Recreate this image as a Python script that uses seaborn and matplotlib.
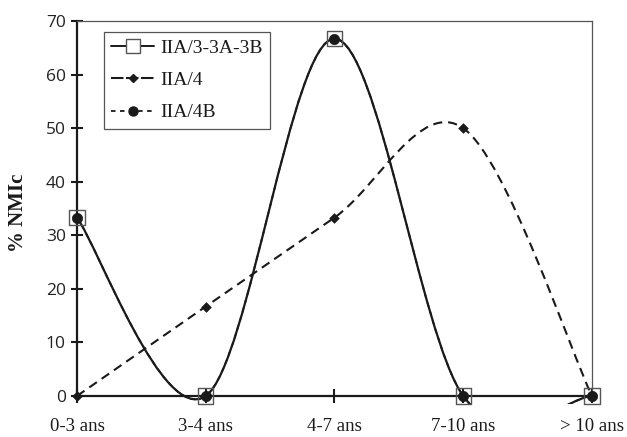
import numpy as np
import pandas as pd
import matplotlib
matplotlib.use("Agg")
import matplotlib.pyplot as plt
import seaborn as sns
from matplotlib.path import Path
from matplotlib.patches import PathPatch
from matplotlib.lines import Line2D

# data
categories = ["0-3 ans", "3-4 ans", "4-7 ans", "7-10 ans", "> 10 ans"]
iia_3 = [33.3, 0, 66.7, 0, 0]      # IIA/3-3A-3B
iia_4 = [0, 16.7, 33.3, 50, 0]     # IIA/4
iia_4b = [33.3, 0, 66.7, 0, 0]     # IIA/4B
y_ticks = [0, 10, 20, 30, 40, 50, 60, 70]

sns.set_style("white")
plt.rcParams['font.family'] = ['Liberation Serif', 'DejaVu Serif']

INK = "#1a1a1a"


def smooth_path(xs, ys):
    """Bezier path through the points, Excel-style smoothed line."""
    pts = np.column_stack([xs, ys]).astype(float)
    n = len(pts)
    verts = [pts[0]]
    codes = [Path.MOVETO]
    for i in range(n - 1):
        p_prev = pts[i - 1] if i > 0 else pts[i]
        p_next2 = pts[i + 2] if i + 2 < n else pts[i + 1]
        c1 = pts[i] + (pts[i + 1] - p_prev) / 6
        c2 = pts[i + 1] - (p_next2 - pts[i]) / 6
        verts += [c1, c2, pts[i + 1]]
        codes += [Path.CURVE4] * 3
    return Path(verts, codes)


fig = plt.figure(figsize=(6.27, 4.37), dpi=100)
ax = fig.add_axes([0.1228, 0.0755, 0.8213, 0.8765])

# x axis sits on y=0, set before the ticks (set_position resets them)
ax.spines['bottom'].set_position(('data', 0))

x = np.arange(len(categories))

# smoothed lines
ax.add_patch(PathPatch(smooth_path(x, iia_4b), fill=False, ec=INK, lw=1.3,
                       linestyle=(0, (2.5, 2.5)), zorder=2))
ax.add_patch(PathPatch(smooth_path(x, iia_4), fill=False, ec=INK, lw=1.5,
                       linestyle=(0, (4.4, 2.8)), zorder=2))
ax.add_patch(PathPatch(smooth_path(x, iia_3), fill=False, ec=INK, lw=1.6,
                       zorder=3))

# markers
sns.scatterplot(x=x, y=iia_3, marker='s', s=120, facecolor='none',
                edgecolor='#555555', linewidth=1.0, ax=ax, zorder=4,
                clip_on=False)
sns.scatterplot(x=x, y=iia_4, marker='D', s=24, color=INK,
                edgecolor=INK, linewidth=0.5, ax=ax, zorder=5, clip_on=False)
sns.scatterplot(x=x, y=iia_4b, marker='o', s=55, color=INK,
                edgecolor=INK, linewidth=0.5, ax=ax, zorder=5, clip_on=False)

ax.set_xlim(0, 4)
ax.set_ylim(-1.5, 70)

ax.set_xticks(x)
ax.set_xticklabels(categories, fontsize=13.5, color=INK)
ax.set_yticks(y_ticks)
ax.set_yticklabels([str(v) for v in y_ticks], fontsize=12.5,
                   family=['Open Sans', 'DejaVu Sans'], color='#222222')

ax.tick_params(axis='x', direction='inout', length=10, width=1.5,
               color=INK, pad=11, bottom=True)
ax.tick_params(axis='y', direction='inout', length=8, width=1.5,
               color=INK, pad=4, left=True)

ax.spines['left'].set_bounds(0, 70)
ax.spines['left'].set_linewidth(1.6)
ax.spines['left'].set_color(INK)
ax.spines['bottom'].set_linewidth(1.6)
ax.spines['bottom'].set_color(INK)
ax.spines['right'].set_bounds(0, 70)
ax.spines['right'].set_linewidth(0.9)
ax.spines['right'].set_color('#555555')
ax.spines['top'].set_linewidth(0.9)
ax.spines['top'].set_color('#555555')
for s in ax.spines.values():
    s.set_visible(True)

ax.set_ylabel('% NMIc', fontsize=15, fontweight='bold', color=INK)
ax.yaxis.set_label_coords(-0.095, 0.5)

handles = [
    Line2D([], [], color=INK, lw=1.4, marker='s', markersize=10,
           mfc='white', mec='#555555', mew=1.0),
    Line2D([], [], color=INK, lw=1.5, linestyle=(0, (6, 1.2)), marker='D',
           markersize=4.5, mfc=INK, mec=INK),
    Line2D([], [], color=INK, lw=1.3, linestyle=(0, (2.5, 2.5)), marker='o',
           markersize=6.5, mfc=INK, mec=INK),
]
leg = ax.legend(handles, ['IIA/3-3A-3B', 'IIA/4', 'IIA/4B'],
                loc='upper left', bbox_to_anchor=(0.052, 0.971),
                borderaxespad=0, fontsize=14, frameon=True, fancybox=False,
                edgecolor='#555555', framealpha=1, handlelength=2.2,
                handletextpad=0.3, labelspacing=0.75, borderpad=0.38)
leg.get_frame().set_linewidth(0.9)
for t in leg.get_texts():
    t.set_color(INK)

fig.savefig('out.png', dpi=100)
